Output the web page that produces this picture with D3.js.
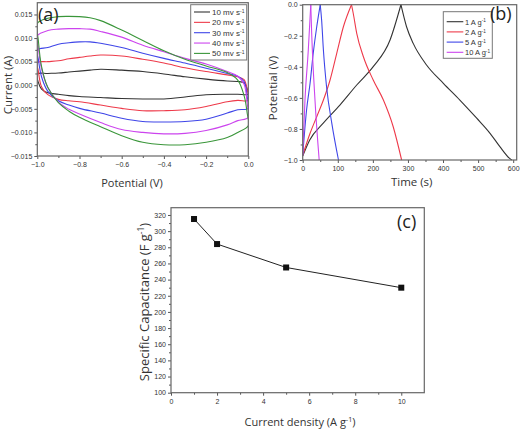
<!DOCTYPE html>
<html><head><meta charset="utf-8">
<script src="https://cdn.jsdelivr.net/npm/d3@7"></script>
<style>body{margin:0;background:#fff}svg{display:block}</style>
</head><body><svg id="c" width="520" height="432"></svg>
<script>
// ---------- Panel (a): cyclic voltammetry ----------
const cvRates = ["10 mv s", "20 mv s", "30 mv s", "40 mv s", "50 mv s"];
const cvColors = ["#333333", "#ee3a4a", "#3f46e8", "#cc44ee", "#3a963a"];
const cvUpperPotential = [-1, -0.95, -0.9, -0.85, -0.8, -0.75, -0.7, -0.6, -0.5, -0.4, -0.3, -0.2, -0.1, -0.05, -0.02, -0.005];
const cvLowerPotential = [0, -0.05, -0.1, -0.2, -0.3, -0.4, -0.5, -0.6, -0.7, -0.8, -0.85, -0.9, -0.95, -0.98, -0.995];
const cv10Upper = [0.0024, 0.0025, 0.0026, 0.0028, 0.0030, 0.0032, 0.0034, 0.0032, 0.0029, 0.0024, 0.0018, 0.0013, 0.0009, 0.0008, 0.0005, -0.0008];
const cv10Lower = [-0.0019, -0.0019, -0.0019, -0.0020, -0.0025, -0.0029, -0.0029, -0.0028, -0.0026, -0.0024, -0.0022, -0.0019, -0.0016, -0.0008, 0.0006];
const cv20Upper = [0.0048, 0.0050, 0.0052, 0.0056, 0.0059, 0.0062, 0.0064, 0.0062, 0.0055, 0.0047, 0.0037, 0.0029, 0.0022, 0.0018, 0.0012, -0.0010];
const cv20Lower = [-0.0032, -0.0032, -0.0035, -0.0045, -0.0052, -0.0054, -0.0054, -0.0049, -0.0042, -0.0035, -0.0033, -0.0030, -0.0020, -0.0003, 0.0030];
const cv30Upper = [0.0075, 0.0080, 0.0087, 0.0090, 0.0092, 0.0092, 0.0089, 0.0080, 0.0068, 0.0057, 0.0047, 0.0036, 0.0025, 0.0019, 0.0008, -0.0025];
const cv30Lower = [-0.0049, -0.0052, -0.0059, -0.0072, -0.0077, -0.0078, -0.0077, -0.0070, -0.0059, -0.0049, -0.0042, -0.0033, -0.0013, 0.0018, 0.0055];
const cv40Upper = [0.0105, 0.0116, 0.0119, 0.0120, 0.0120, 0.0119, 0.0114, 0.0102, 0.0085, 0.0071, 0.0057, 0.0045, 0.0029, 0.0019, 0.0002, -0.0040];
const cv40Lower = [-0.0068, -0.0075, -0.0084, -0.0096, -0.0102, -0.0103, -0.0100, -0.0094, -0.0079, -0.0061, -0.0051, -0.0036, -0.0005, 0.0035, 0.0080];
const cv50Upper = [0.0131, 0.0142, 0.01455, 0.0146, 0.01455, 0.0143, 0.0137, 0.0117, 0.0095, 0.0073, 0.0055, 0.0041, 0.0027, 0.0011, -0.0022, -0.0060];
const cv50Lower = [-0.0086, -0.0100, -0.0111, -0.0121, -0.0126, -0.0126, -0.0121, -0.0107, -0.0088, -0.0068, -0.0055, -0.0037, -0.0005, 0.0040, 0.0095];
const cvYTicks = [0.015, 0.010, 0.005, 0.000, -0.005, -0.010, -0.015];
const cvXTicks = [-1.0, -0.8, -0.6, -0.4, -0.2, 0.0];

// ---------- Panel (b): charge/discharge ----------
const gcdLabels = ["1 A g", "2 A g", "5 A g", "10 A g"];
const gcdColors = ["#333333", "#ee3a4a", "#3f46e8", "#cc44ee"];
const gcd1ChargeT = [0, 20, 58, 106, 154, 201, 249, 280];
const gcd1ChargeV = [-0.975, -0.871, -0.764, -0.646, -0.517, -0.399, -0.227, 0];
const gcd1DischargeT = [280, 296, 315, 353, 401, 448, 496, 534, 562, 590, 596];
const gcd1DischargeV = [0, -0.142, -0.249, -0.388, -0.506, -0.614, -0.731, -0.828, -0.914, -0.99, -1.0];
const gcd2ChargeT = [0, 21, 40, 59, 78, 97, 116, 139];
const gcd2ChargeV = [-0.97, -0.828, -0.721, -0.614, -0.485, -0.313, -0.142, 0];
const gcd2DischargeT = [139, 144, 154, 173, 201, 230, 258, 282];
const gcd2DischargeV = [0, -0.055, -0.184, -0.335, -0.485, -0.614, -0.786, -1.0];
const gcd5ChargeT = [0, 11, 21, 30, 40, 50];
const gcd5ChargeV = [-0.97, -0.678, -0.506, -0.313, -0.142, 0];
const gcd5DischargeT = [50, 54, 59, 68, 83, 102];
const gcd5DischargeV = [0, -0.1, -0.292, -0.528, -0.764, -1.0];
const gcd10ChargeT = [0, 6.5, 16, 23];
const gcd10ChargeV = [-0.97, -0.614, -0.29, 0];
const gcd10DischargeT = [23, 25.6, 35, 47];
const gcd10DischargeV = [0, -0.184, -0.614, -1.0];
const gcdXTicks = [0, 100, 200, 300, 400, 500, 600];
const gcdYTicks = [0.0, -0.2, -0.4, -0.6, -0.8, -1.0];

// ---------- Panel (c): specific capacitance ----------
const currentDensity = [1, 2, 5, 10];
const capacitance = [315, 284, 255, 230];
const capXTicks = [0, 2, 4, 6, 8, 10];
const capYTicks = [100, 120, 140, 160, 180, 200, 220, 240, 260, 280, 300, 320];

const svg = d3.select("#c");
const TICKFONT = "Liberation Sans, Arial, sans-serif";
const TITLEFONT = "Open Sans, sans-serif";
const frameColor = "#666";

function frame(g, x0, x1, y0, y1) {
  g.append("rect").attr("x", x0).attr("y", y0).attr("width", x1 - x0).attr("height", y1 - y0)
    .attr("fill", "none").attr("stroke", frameColor).attr("stroke-width", 1.2);
}
function styleAxis(a) {
  a.select(".domain").remove();
  a.selectAll("line").attr("stroke", "#555");
  a.selectAll("text").attr("font-family", TICKFONT).attr("font-size", "7px").attr("fill", "#333");
}
function supText(sel, base, sup) {
  sel.append("tspan").text(base);
  sel.append("tspan").text(sup).attr("font-size", "0.62em").attr("dy", "-0.5em");
}
function titleWithSup(sel, base, sup, size) {
  sel.append("tspan").text(base);
  sel.append("tspan").text(sup).attr("font-size", (size * 0.65) + "px").attr("dy", -size * 0.38);
  sel.append("tspan").text(")").attr("dy", size * 0.38);
}

// ---------- (a) ----------
{
  const L = 37.3, R = 248.3, T = 2.7, B = 156;
  const x = d3.scaleLinear().domain([-1, 0]).range([L, R]);
  const y = d3.scaleLinear().domain([-0.015, 0.0175]).range([B, T]);
  const g = svg.append("g");
  g.append("clipPath").attr("id", "clipA").append("rect").attr("x", L).attr("y", T).attr("width", R - L).attr("height", B - T);
  const ups = [cv10Upper, cv20Upper, cv30Upper, cv40Upper, cv50Upper];
  const lows = [cv10Lower, cv20Lower, cv30Lower, cv40Lower, cv50Lower];
  const line = d3.line().x(d => x(d[0])).y(d => y(d[1])).curve(d3.curveCatmullRomClosed.alpha(0.5));
  const pg = g.append("g").attr("clip-path", "url(#clipA)");
  ups.forEach((u, i) => {
    const pts = cvUpperPotential.map((p, k) => [p, u[k]]).concat(cvLowerPotential.map((p, k) => [p, lows[i][k]]));
    pg.append("path").attr("d", line(pts)).attr("fill", "none").attr("stroke", cvColors[i]).attr("stroke-width", 1.1);
  });
  const xa = g.append("g").attr("transform", `translate(0,${B})`)
    .call(d3.axisBottom(x).tickValues(cvXTicks).tickFormat(d3.format(".1f")).tickSize(3).tickPadding(3));
  styleAxis(xa);
  g.append("g").attr("transform", `translate(0,${B})`)
    .call(d3.axisBottom(x).tickValues(d3.range(-0.9, 0, 0.2)).tickFormat("").tickSize(2))
    .call(s => { s.select(".domain").remove(); s.selectAll("line").attr("stroke", "#555"); });
  const ya = g.append("g").attr("transform", `translate(${L},0)`)
    .call(d3.axisLeft(y).tickValues(cvYTicks).tickFormat(d3.format(".3f")).tickSize(3).tickPadding(2));
  styleAxis(ya);
  g.append("g").attr("transform", `translate(${L},0)`)
    .call(d3.axisLeft(y).tickValues([0.0125, 0.0075, 0.0025, -0.0025, -0.0075, -0.0125]).tickFormat("").tickSize(2))
    .call(s => { s.select(".domain").remove(); s.selectAll("line").attr("stroke", "#555"); });
  frame(g, L, R, T, B);
  g.append("text").attr("x", 132).attr("y", 186.5).attr("text-anchor", "middle")
    .attr("font-family", TITLEFONT).attr("font-size", "11px").attr("fill", "#333").text("Potential (V)");
  g.append("text").attr("transform", `translate(12,85) rotate(-90)`).attr("text-anchor", "middle")
    .attr("font-family", TITLEFONT).attr("font-size", "11.5px").attr("fill", "#333").text("Current (A)");
  g.append("text").attr("x", 38).attr("y", 21).attr("font-family", TITLEFONT).attr("font-size", "18px").attr("fill", "#222").text("(a)");
  // legend
  const lg = g.append("g");
  lg.append("rect").attr("x", 190.7).attr("y", 4.7).attr("width", 56).attr("height", 55.3)
    .attr("fill", "#fff").attr("stroke", "#777").attr("stroke-width", 1);
  cvRates.forEach((r, i) => {
    const yy = 12 + i * 10.35;
    lg.append("line").attr("x1", 194).attr("x2", 210).attr("y1", yy).attr("y2", yy).attr("stroke", cvColors[i]).attr("stroke-width", 1.1);
    const t = lg.append("text").attr("x", 212).attr("y", yy + 3).attr("font-family", TICKFONT).attr("font-size", "8px").attr("fill", "#333");
    supText(t, r, "-1");
  });
}

// ---------- (b) ----------
{
  const L = 302.7, R = 516.7, T = 4.7, B = 160;
  const x = d3.scaleLinear().domain([0, 610]).range([L, R]);
  const y = d3.scaleLinear().domain([-1, 0]).range([B, T]);
  const g = svg.append("g");
  g.append("clipPath").attr("id", "clipB").append("rect").attr("x", L).attr("y", T - 1).attr("width", R - L).attr("height", B - T + 2);
  const pg = g.append("g").attr("clip-path", "url(#clipB)");
  const line = d3.line().x(d => x(d[0])).y(d => y(d[1])).curve(d3.curveMonotoneX);
  const segs = [
    [gcd1ChargeT, gcd1ChargeV, gcd1DischargeT, gcd1DischargeV],
    [gcd2ChargeT, gcd2ChargeV, gcd2DischargeT, gcd2DischargeV],
    [gcd5ChargeT, gcd5ChargeV, gcd5DischargeT, gcd5DischargeV],
    [gcd10ChargeT, gcd10ChargeV, gcd10DischargeT, gcd10DischargeV]
  ];
  segs.forEach((s, i) => {
    [[s[0], s[1]], [s[2], s[3]]].forEach(([ts, vs]) => {
      pg.append("path").attr("d", line(ts.map((t, k) => [t, vs[k]])))
        .attr("fill", "none").attr("stroke", gcdColors[i]).attr("stroke-width", 1.1);
    });
  });
  const xa = g.append("g").attr("transform", `translate(0,${B})`)
    .call(d3.axisBottom(x).tickValues(gcdXTicks).tickFormat(d3.format("d")).tickSize(3).tickPadding(3));
  styleAxis(xa);
  g.append("g").attr("transform", `translate(0,${B})`)
    .call(d3.axisBottom(x).tickValues([50, 150, 250, 350, 450, 550]).tickFormat("").tickSize(2))
    .call(s => { s.select(".domain").remove(); s.selectAll("line").attr("stroke", "#555"); });
  const ya = g.append("g").attr("transform", `translate(${L},0)`)
    .call(d3.axisLeft(y).tickValues(gcdYTicks).tickFormat(d3.format(".1f")).tickSize(3).tickPadding(2));
  styleAxis(ya);
  g.append("g").attr("transform", `translate(${L},0)`)
    .call(d3.axisLeft(y).tickValues([-0.1, -0.3, -0.5, -0.7, -0.9]).tickFormat("").tickSize(2))
    .call(s => { s.select(".domain").remove(); s.selectAll("line").attr("stroke", "#555"); });
  frame(g, L, R, T, B);
  g.append("text").attr("x", 411.7).attr("y", 186).attr("text-anchor", "middle")
    .attr("font-family", TITLEFONT).attr("font-size", "11.5px").attr("fill", "#333").text("Time (s)");
  g.append("text").attr("transform", `translate(277,88) rotate(-90)`).attr("text-anchor", "middle")
    .attr("font-family", TITLEFONT).attr("font-size", "11.5px").attr("fill", "#333").text("Potential (V)");
  const lg = g.append("g");
  lg.append("rect").attr("x", 443.3).attr("y", 11.7).attr("width", 49).attr("height", 46.6)
    .attr("fill", "#fff").attr("stroke", "#777").attr("stroke-width", 1);
  gcdLabels.forEach((r, i) => {
    const yy = 21.7 + i * 10.2;
    lg.append("line").attr("x1", 446.7).attr("x2", 463.3).attr("y1", yy).attr("y2", yy).attr("stroke", gcdColors[i]).attr("stroke-width", 1.1);
    const t = lg.append("text").attr("x", 465).attr("y", yy + 3).attr("font-family", TICKFONT).attr("font-size", "7.5px").attr("fill", "#333");
    supText(t, r, "-1");
  });
  g.append("text").attr("x", 490).attr("y", 20).attr("font-family", TITLEFONT).attr("font-size", "18px").attr("fill", "#222").text("(b)");
}

// ---------- (c) ----------
{
  const L = 171, R = 424.3, T = 207.7, B = 392.7;
  const x = d3.scaleLinear().domain([0, 11]).range([L, R]);
  const y = d3.scaleLinear().domain([100, 329]).range([B, T]);
  const g = svg.append("g");
  const pts = currentDensity.map((d, i) => [d, capacitance[i]]);
  g.append("path").attr("d", d3.line().x(d => x(d[0])).y(d => y(d[1]))(pts))
    .attr("fill", "none").attr("stroke", "#222").attr("stroke-width", 1);
  g.selectAll("rect.pt").data(pts).enter().append("rect").attr("class", "pt")
    .attr("x", d => x(d[0]) - 3).attr("y", d => y(d[1]) - 3).attr("width", 6).attr("height", 6).attr("fill", "#111");
  const xa = g.append("g").attr("transform", `translate(0,${B})`)
    .call(d3.axisBottom(x).tickValues(capXTicks).tickFormat(d3.format("d")).tickSize(3).tickPadding(3));
  styleAxis(xa);
  g.append("g").attr("transform", `translate(0,${B})`)
    .call(d3.axisBottom(x).tickValues([1, 3, 5, 7, 9]).tickFormat("").tickSize(2))
    .call(s => { s.select(".domain").remove(); s.selectAll("line").attr("stroke", "#555"); });
  const ya = g.append("g").attr("transform", `translate(${L},0)`)
    .call(d3.axisLeft(y).tickValues(capYTicks).tickFormat(d3.format("d")).tickSize(3).tickPadding(2));
  styleAxis(ya);
  g.append("g").attr("transform", `translate(${L},0)`)
    .call(d3.axisLeft(y).tickValues(d3.range(110, 330, 20)).tickFormat("").tickSize(2))
    .call(s => { s.select(".domain").remove(); s.selectAll("line").attr("stroke", "#555"); });
  frame(g, L, R, T, B);
  const xt = g.append("text").attr("x", 300).attr("y", 426).attr("text-anchor", "middle")
    .attr("font-family", TITLEFONT).attr("font-size", "11px").attr("fill", "#333");
  titleWithSup(xt, "Current density (A g", "-1", 11);
  const yt = g.append("text").attr("transform", `translate(149,302) rotate(-90)`).attr("text-anchor", "middle")
    .attr("font-family", TITLEFONT).attr("font-size", "13px").attr("fill", "#333");
  titleWithSup(yt, "Specific Capacitance (F g", "-1", 13);
  g.append("text").attr("x", 397).attr("y", 228).attr("font-family", TITLEFONT).attr("font-size", "18px").attr("fill", "#222").text("(c)");
}
</script></body></html>
